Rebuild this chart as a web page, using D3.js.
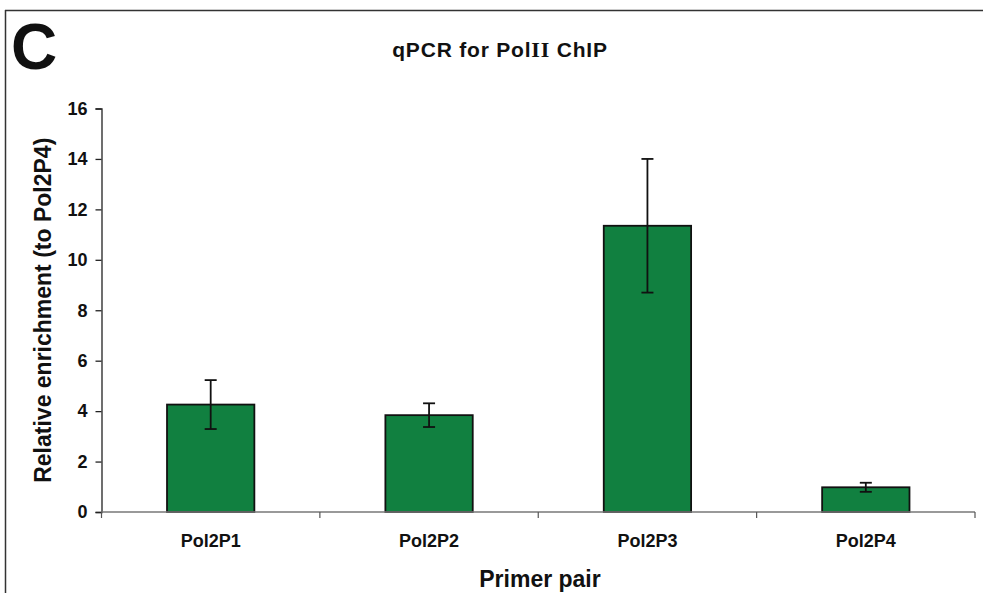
<!DOCTYPE html>
<html>
<head>
<meta charset="utf-8">
<script src="https://cdn.jsdelivr.net/npm/d3@7"></script>
<style>
  html, body { margin: 0; padding: 0; background: #fff; }
  svg { display: block; font-family: Arial, "Liberation Sans", sans-serif; }
</style>
</head>
<body>
<svg id="chart" width="983" height="593"></svg>
<script>
// ---- data ----
const categories = ["Pol2P1", "Pol2P2", "Pol2P3", "Pol2P4"];
const values = [4.26, 3.84, 11.35, 0.98];
const errors = [0.97, 0.47, 2.65, 0.18];
const yTicks = [0, 2, 4, 6, 8, 10, 12, 14, 16];
const titleParts = ["qPCR for Pol", "II", " ChIP"];
const panelLabel = "C";
const xTitle = "Primer pair";
const yTitle = "Relative enrichment (to Pol2P4)";

// ---- layout ----
const W = 983, H = 593;
const plot = { left: 101.5, right: 975, top: 108.5, bottom: 512 };
const svg = d3.select("#chart");

// frame
svg.append("line").attr("x1", 5).attr("x2", W).attr("y1", 10.5).attr("y2", 10.5)
  .attr("stroke", "#333").attr("stroke-width", 1.5);
svg.append("line").attr("x1", 5.5).attr("x2", 5.5).attr("y1", 10).attr("y2", H)
  .attr("stroke", "#333").attr("stroke-width", 1.5);

// scales
const x = d3.scaleBand().domain(categories).range([plot.left, plot.right]).padding(0);
const y = d3.scaleLinear().domain([0, 16]).range([plot.bottom, plot.top]);
const barW = x.bandwidth() * 0.4;

// y axis
const yAxis = svg.append("g").attr("transform", `translate(${plot.left},0)`)
  .call(d3.axisLeft(y).tickValues(yTicks).tickSize(6).tickPadding(8).tickFormat(d3.format("d")));
yAxis.select(".domain").attr("stroke", "#222").attr("stroke-width", 1.3);
yAxis.selectAll(".tick line").attr("stroke", "#222").attr("stroke-width", 1.3);
yAxis.selectAll(".tick text").attr("font-size", 18).attr("font-weight", "bold").attr("fill", "#111")
  .attr("font-family", "Arial, 'Liberation Sans', sans-serif");

// bars
svg.append("g").selectAll("rect").data(categories).join("rect")
  .attr("x", (d) => x(d) + x.bandwidth() / 2 - barW / 2)
  .attr("y", (d, i) => y(values[i]))
  .attr("width", barW)
  .attr("height", (d, i) => y(0) - y(values[i]))
  .attr("fill", "#118040")
  .attr("stroke", "#111")
  .attr("stroke-width", 1.8);

// x axis (boundary ticks)
const xAxisG = svg.append("g").attr("transform", `translate(0,${plot.bottom})`);
xAxisG.append("line").attr("x1", plot.left).attr("x2", plot.right).attr("y1", 0).attr("y2", 0)
  .attr("stroke", "#777").attr("stroke-width", 1.6);
const bounds = categories.map((c) => x(c)).concat([x(categories[categories.length - 1]) + x.bandwidth()]);
xAxisG.selectAll("line.bt").data(bounds).join("line").attr("class", "bt")
  .attr("x1", (d) => d).attr("x2", (d) => d).attr("y1", 0).attr("y2", 6)
  .attr("stroke", "#555").attr("stroke-width", 1.2);
svg.append("g").selectAll("text").data(categories).join("text")
  .attr("x", (d) => x(d) + x.bandwidth() / 2)
  .attr("y", 547)
  .attr("text-anchor", "middle")
  .attr("font-size", 18).attr("font-weight", "bold").attr("fill", "#111")
  .text((d) => d);

// error bars
const eb = svg.append("g").attr("stroke", "#111").attr("stroke-width", 1.8);
categories.forEach((c, i) => {
  const cx = x(c) + x.bandwidth() / 2;
  const hi = y(values[i] + errors[i]), lo = y(values[i] - errors[i]);
  eb.append("line").attr("x1", cx).attr("x2", cx).attr("y1", hi).attr("y2", lo);
  eb.append("line").attr("x1", cx - 6).attr("x2", cx + 6).attr("y1", hi).attr("y2", hi);
  eb.append("line").attr("x1", cx - 6).attr("x2", cx + 6).attr("y1", lo).attr("y2", lo);
});

// titles
const t = svg.append("text").attr("x", 500).attr("y", 56.5).attr("text-anchor", "middle")
  .attr("font-size", 21).attr("font-weight", "bold").attr("fill", "#111")
  .attr("letter-spacing", 0.8);
t.append("tspan").text(titleParts[0]);
t.append("tspan").attr("font-family", "'Liberation Serif', 'DejaVu Serif', serif").attr("font-size", 22).text(titleParts[1]);
t.append("tspan").text(titleParts[2]);
svg.append("text").attr("x", 11).attr("y", 69).attr("font-size", 64).attr("font-weight", "bold")
  .attr("fill", "#111").text(panelLabel);
svg.append("text").attr("x", 540).attr("y", 587).attr("text-anchor", "middle")
  .attr("font-size", 23).attr("font-weight", "bold").attr("fill", "#111").text(xTitle);
svg.append("text").attr("transform", `translate(51,${(plot.top + plot.bottom) / 2}) rotate(-90)`)
  .attr("text-anchor", "middle")
  .attr("font-size", 23).attr("font-weight", "bold").attr("fill", "#111").text(yTitle);
</script>
</body>
</html>
